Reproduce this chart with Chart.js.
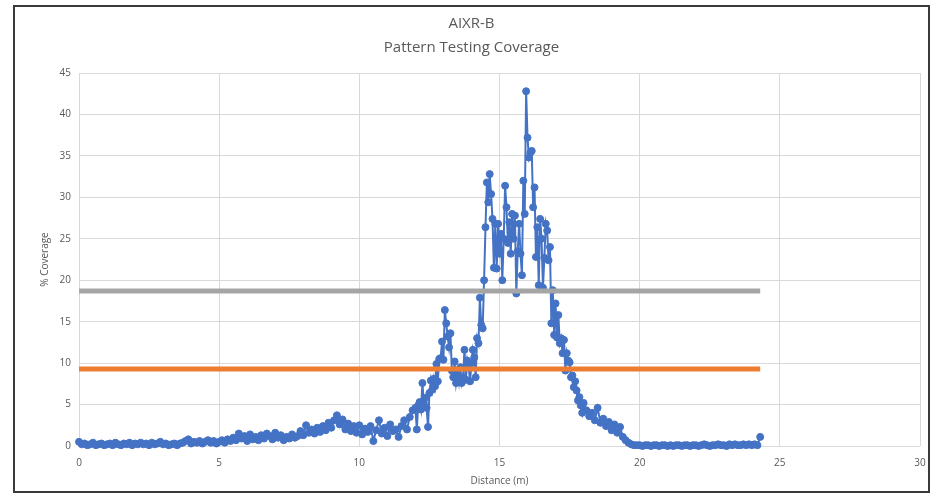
<!DOCTYPE html>
<html>
<head>
<meta charset="utf-8">
<script src="https://cdn.jsdelivr.net/npm/chart.js@4/dist/chart.umd.min.js"></script>
<style>
    html, body { margin: 0; padding: 0; background: #fff; }
    #frame {
        position: absolute;
        left: 13px; top: 5px;
        width: 913px; height: 484px;
        border: 2px solid #3a3a3a;
        background: #fff;
    }
    canvas { display: block; }
</style>
</head>
<body>
<div id="frame"><canvas id="coverageChart" width="913" height="484"></canvas></div>
<script>
// Distances (m) of the measured samples
const distances = [
    0.0, 0.1, 0.2, 0.3, 0.4, 0.5, 0.6, 0.7, 0.8, 0.9,
    1.0, 1.1, 1.2, 1.3, 1.4, 1.5, 1.6, 1.7, 1.8, 1.9,
    2.0, 2.1, 2.2, 2.3, 2.4, 2.5, 2.6, 2.7, 2.8, 2.9,
    3.0, 3.1, 3.2, 3.3, 3.4, 3.5, 3.6, 3.7, 3.8, 3.9,
    4.0, 4.1, 4.2, 4.3, 4.4, 4.5, 4.6, 4.7, 4.8, 4.9,
    5.0, 5.1, 5.2, 5.3, 5.4, 5.5, 5.6, 5.7, 5.8, 5.9,
    6.0, 6.1, 6.2, 6.3, 6.4, 6.5, 6.6, 6.7, 6.8, 6.9,
    7.0, 7.1, 7.2, 7.3, 7.4, 7.5, 7.6, 7.7, 7.8, 7.9,
    8.0, 8.1, 8.2, 8.3, 8.4, 8.5, 8.6, 8.7, 8.8, 8.9,
    9.0, 9.1, 9.2, 9.3, 9.4, 9.5, 9.6, 9.7, 9.8, 9.9,
    10.0, 10.1, 10.2, 10.3, 10.4, 10.5, 10.6, 10.7, 10.8, 10.9,
    11.0, 11.1, 11.2, 11.3, 11.4, 11.5, 11.6, 11.7, 11.8, 11.9,
    12.00, 12.05, 12.10, 12.15, 12.20, 12.25, 12.30, 12.35, 12.40, 12.45,
    12.50, 12.55, 12.60, 12.65, 12.70, 12.75, 12.80, 12.85, 12.90, 12.95,
    13.00, 13.05, 13.10, 13.15, 13.20, 13.25, 13.30, 13.35, 13.40, 13.45,
    13.50, 13.55, 13.60, 13.65, 13.70, 13.75, 13.80, 13.85, 13.90, 13.95,
    14.00, 14.05, 14.10, 14.15, 14.20, 14.25, 14.30, 14.35, 14.40, 14.45,
    14.50, 14.55, 14.60, 14.65, 14.70, 14.75, 14.80, 14.85, 14.90, 14.95,
    15.00, 15.05, 15.10, 15.15, 15.20, 15.25, 15.30, 15.35, 15.40, 15.45,
    15.50, 15.55, 15.60, 15.65, 15.70, 15.75, 15.80, 15.85, 15.90, 15.95,
    16.00, 16.05, 16.10, 16.15, 16.20, 16.25, 16.30, 16.35, 16.40, 16.45,
    16.50, 16.55, 16.60, 16.65, 16.70, 16.75, 16.80, 16.85, 16.90, 16.95,
    17.00, 17.05, 17.10, 17.15, 17.20, 17.25, 17.30, 17.35, 17.40, 17.45,
    17.50, 17.55, 17.60, 17.65, 17.70, 17.75, 17.80, 17.85, 17.90, 17.95,
    18.0, 18.1, 18.2, 18.3, 18.4, 18.5, 18.6, 18.7, 18.8, 18.9,
    19.0, 19.1, 19.2, 19.3, 19.4, 19.5, 19.6, 19.7, 19.8, 19.9,
    20.0, 20.1, 20.2, 20.3, 20.4, 20.5, 20.6, 20.7, 20.8, 20.9,
    21.0, 21.1, 21.2, 21.3, 21.4, 21.5, 21.6, 21.7, 21.8, 21.9,
    22.0, 22.1, 22.2, 22.3, 22.4, 22.5, 22.6, 22.7, 22.8, 22.9,
    23.0, 23.1, 23.2, 23.3, 23.4, 23.5, 23.6, 23.7, 23.8, 23.9,
    24.0, 24.1, 24.2, 24.3
];

// % coverage at each distance
const coverage = [
    0.5, 0.2, 0.3, 0.1, 0.2, 0.4, 0.1, 0.2, 0.3, 0.1,
    0.2, 0.3, 0.1, 0.4, 0.2, 0.1, 0.3, 0.2, 0.4, 0.1,
    0.3, 0.2, 0.4, 0.2, 0.3, 0.1, 0.4, 0.2, 0.3, 0.5,
    0.2, 0.3, 0.1, 0.2, 0.3, 0.1, 0.3, 0.4, 0.6, 0.8,
    0.3, 0.5, 0.4, 0.6, 0.3, 0.5, 0.7, 0.4, 0.6, 0.3,
    0.5, 0.7, 0.4, 0.8, 0.6, 1.0, 0.7, 1.5, 0.9, 1.2,
    0.6, 1.4, 0.8, 1.1, 0.7, 1.3, 0.9, 1.5, 1.2, 0.8,
    1.6, 1.0, 1.3, 0.7, 1.1, 0.9, 1.4, 1.0, 1.2, 1.8,
    1.3, 2.5, 1.6, 2.0, 1.5, 2.2, 1.7, 2.4, 1.9, 2.8,
    2.2, 3.1, 3.7, 2.6, 3.2, 2.0, 2.7, 1.8, 2.4, 1.6,
    2.5, 1.4, 2.1, 1.7, 2.4, 0.6, 1.9, 3.1, 1.5, 2.2,
    1.2, 2.6, 1.8, 2.0, 1.1, 2.4, 3.1, 2.0, 3.5, 4.3,
    4.6, 2.0, 4.9, 5.3, 4.4, 7.6, 5.2, 5.8, 4.6, 2.3,
    6.4, 7.9, 6.8, 8.1, 7.2, 9.9, 7.8, 10.5, 10.6, 12.6,
    10.4, 16.4, 14.8, 13.2, 11.9, 13.6, 9.1, 8.3, 10.2, 7.6,
    8.8, 7.7, 9.5, 7.6, 8.3, 11.6, 8.0, 10.3, 9.5, 7.8,
    10.0, 11.6, 10.7, 8.3, 13.0, 12.4, 17.9, 14.6, 14.2, 20.0,
    26.4, 31.8, 29.4, 32.8, 30.4, 27.4, 21.5, 26.8, 21.4, 26.8,
    23.2, 25.6, 20.0, 25.0, 31.4, 28.8, 24.5, 27.0, 23.2, 28.0,
    25.0, 27.8, 18.4, 23.5, 26.8, 23.2, 20.6, 32.0, 28.0, 42.8,
    37.2, 34.8, 35.4, 35.6, 28.8, 31.2, 22.8, 26.4, 19.4, 27.4,
    25.0, 19.1, 22.7, 26.8, 26.0, 22.4, 24.0, 14.8, 18.8, 13.4,
    17.2, 13.1, 15.8, 12.4, 13.0, 11.2, 12.8, 9.1, 11.2, 10.3,
    10.1, 8.3, 8.5, 7.1, 7.8, 6.7, 5.5, 5.9, 4.9, 4.0,
    5.2, 4.3, 3.6, 4.0, 3.1, 4.6, 2.8, 3.3, 2.4, 2.9,
    1.9, 2.6, 1.6, 2.3, 1.1, 0.7, 0.4, 0.2, 0.1, 0.1,
    0.1, 0.0, 0.1, 0.1, 0.0, 0.1, 0.1, 0.0, 0.1, 0.1,
    0.0, 0.1, 0.0, 0.1, 0.1, 0.0, 0.1, 0.1, 0.0, 0.1,
    0.1, 0.0, 0.1, 0.2, 0.1, 0.0, 0.1, 0.1, 0.2, 0.1,
    0.1, 0.0, 0.2, 0.1, 0.2, 0.1, 0.1, 0.2, 0.1, 0.2,
    0.1, 0.2, 0.1, 1.1
];

// Reference levels (horizontal lines) and their extent
const levelRange = [0, 24.3];
const upperLevel = 18.7;   // gray
const lowerLevel = 9.3;    // orange

const xTickMax = 30;
const yTickMax = 45;
const tickStep = 5;

const textColor = '#595959';
const fontFamily = "'Open Sans', 'Noto Sans', sans-serif";

const coveragePoints = distances.map((d, i) => ({ x: d, y: coverage[i] }));
const levelPoints = level => levelRange.map(d => ({ x: d, y: level }));

const ctx = document.getElementById('coverageChart').getContext('2d');

new Chart(ctx, {
    type: 'line',
    data: {
        datasets: [
            {
                label: 'Coverage',
                data: coveragePoints,
                borderColor: '#4472C4',
                backgroundColor: '#4472C4',
                borderWidth: 2,
                pointRadius: 3.5,
                pointBorderWidth: 1,
                pointBackgroundColor: '#4472C4',
                pointBorderColor: '#4472C4',
                tension: 0,
                clip: false,
                order: 3
            },
            {
                label: 'Upper',
                data: levelPoints(upperLevel),
                borderColor: '#A5A5A5',
                borderWidth: 5,
                pointRadius: 0,
                order: 1
            },
            {
                label: 'Lower',
                data: levelPoints(lowerLevel),
                borderColor: '#ED7D31',
                borderWidth: 5,
                pointRadius: 0,
                order: 2
            }
        ]
    },
    options: {
        responsive: false,
        animation: false,
        layout: { padding: { left: 0, right: 0, top: 0, bottom: 4 } },
        plugins: {
            legend: { display: false },
            tooltip: { enabled: false },
            title: {
                display: true,
                text: 'AIXR-B',
                color: textColor,
                font: { family: fontFamily, size: 15, weight: 'normal' },
                padding: { top: 8, bottom: 0 }
            },
            subtitle: {
                display: true,
                text: 'Pattern Testing Coverage',
                color: textColor,
                font: { family: fontFamily, size: 15, weight: 'normal' },
                padding: { top: 6, bottom: 16 }
            }
        },
        scales: {
            x: {
                type: 'linear',
                min: 0,
                max: xTickMax,
                ticks: {
                    stepSize: tickStep,
                    color: textColor,
                    font: { family: fontFamily, size: 10 },
                    padding: 11,
                    maxRotation: 0
                },
                grid: { color: '#D9D9D9', drawTicks: false },
                border: { display: false },
                title: {
                    display: true,
                    text: 'Distance (m)',
                    color: textColor,
                    font: { family: fontFamily, size: 10 },
                    padding: { top: 0, bottom: 0 }
                },
                afterFit: scale => {
                    scale.height = 41;
                    scale.paddingRight = 8;
                }
            },
            y: {
                min: 0,
                max: yTickMax,
                ticks: {
                    stepSize: tickStep,
                    color: textColor,
                    font: { family: fontFamily, size: 10 },
                    padding: 8
                },
                grid: { color: '#D9D9D9', drawTicks: false },
                border: { display: false },
                title: {
                    display: true,
                    text: '% Coverage',
                    color: textColor,
                    font: { family: fontFamily, size: 10 },
                    padding: { top: 24, bottom: 0 }
                },
                afterFit: scale => { scale.width = 64; }
            }
        }
    }
});
</script>
</body>
</html>
